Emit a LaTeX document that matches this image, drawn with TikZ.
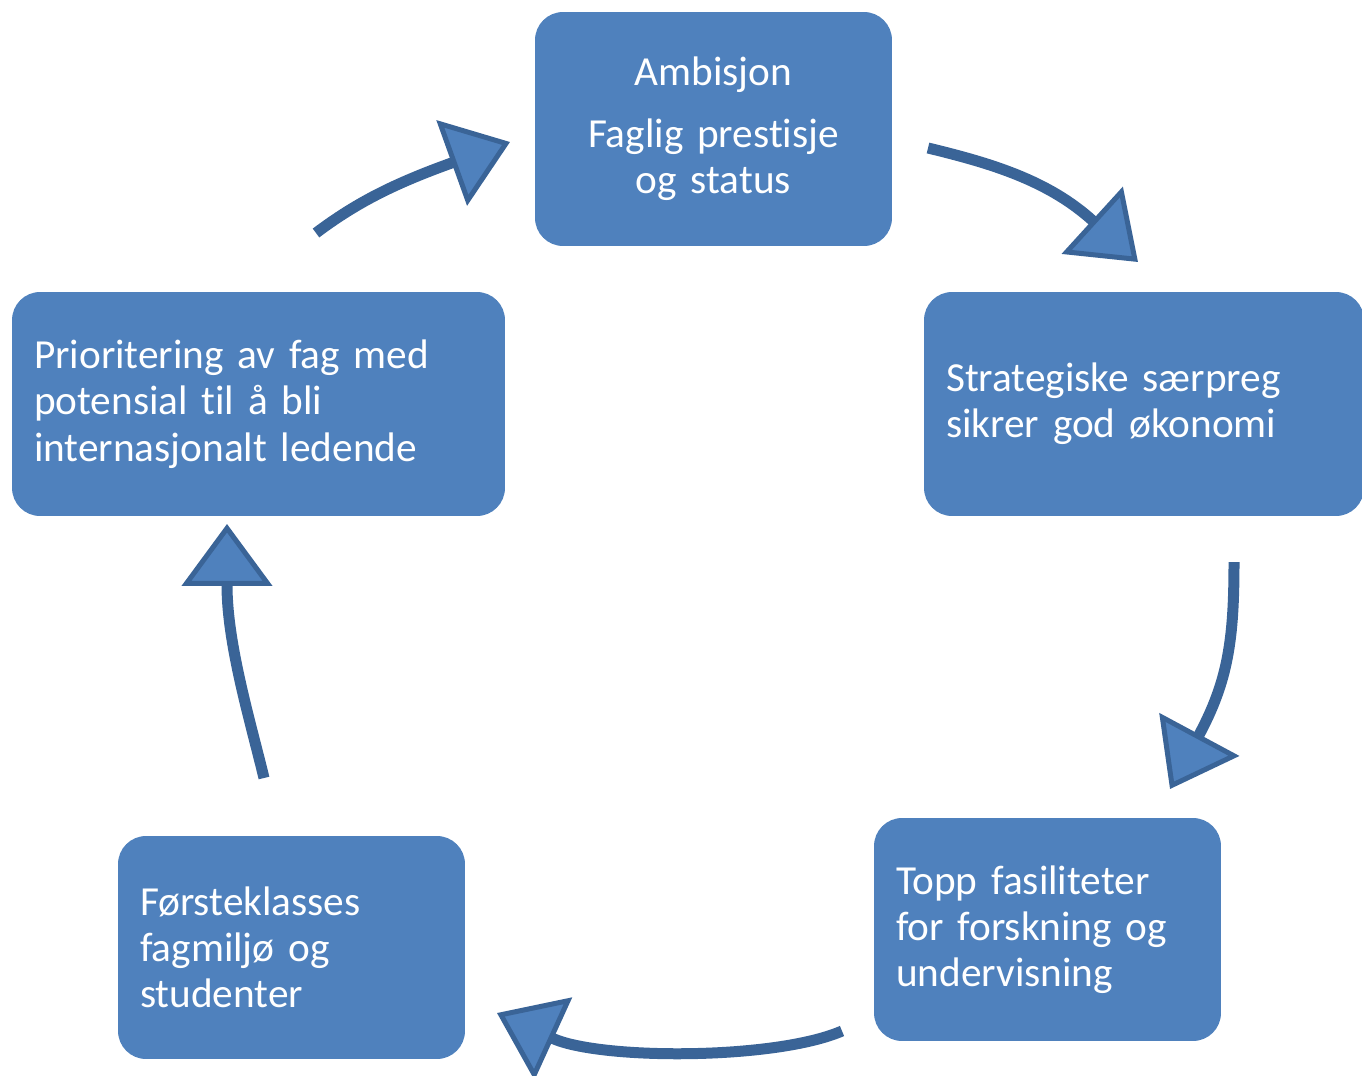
\documentclass[tikz,border=0pt]{standalone}
\usepackage{fontspec}
\setmainfont{Carlito}[Ligatures=NoCommon]
\usetikzlibrary{arrows.meta}
\definecolor{boxfill}{HTML}{4F81BD}
\definecolor{arrowline}{HTML}{3A6497}

\begin{document}
\begin{tikzpicture}[
    x=0.02cm, y=-0.02cm,
    font=\fontsize{23.5}{26.3}\selectfont,
    box/.style={rounded corners=0.56cm, fill=boxfill, text=white,
                inner xsep=0.44cm, inner ysep=0pt, align=left},
    cyc/.style={draw=arrowline, line width=0.22cm,
                -{Triangle[length=1.24cm, width=1.8cm, fill=boxfill,
                  line width=0.1cm]}},
]

\clip (0,0) rectangle (1362,1075);

% Boxes of the cycle
\node[box, align=center, text width=6.26cm, minimum height=4.68cm]
    (ambisjon) at (713.5,129)
    {Ambisjon\\[9pt]Faglig prestisje\\og status};
\node[box, text width=7.92cm, minimum height=4.48cm]
    (strategi) at (1144,404)
    {Strategiske særpreg\\sikrer god økonomi};
\node[box, text width=6.06cm, minimum height=4.46cm]
    (fasiliteter) at (1047.5,929.5)
    {Topp fasiliteter\\for forskning og\\undervisning};
\node[box, text width=6.06cm, minimum height=4.46cm]
    (fagmiljo) at (291.5,947.5)
    {Førsteklasses\\fagmiljø og\\studenter};
\node[box, text width=8.98cm, minimum height=4.48cm]
    (prioritering) at (258.5,404)
    {Prioritering av fag med\\potensial til å bli\\internasjonalt ledende};

% Free ends of the arrows
\coordinate (a1s) at (316,233);  \coordinate (a1e) at (510,142);
\coordinate (a2s) at (928,148);  \coordinate (a2e) at (1138,262);
\coordinate (a3s) at (1234,562); \coordinate (a3e) at (1170,789);
\coordinate (a4s) at (842,1031); \coordinate (a4e) at (497,1013);
\coordinate (a5s) at (264,778);  \coordinate (a5e) at (227,524);

% Arrows between the boxes
\draw[cyc] (a1s) .. controls (356,203) and (393,184) .. (a1e);
\draw[cyc] (a2s) .. controls (990,163) and (1048,180) .. (a2e);
\draw[cyc] (a3s) .. controls (1234,640) and (1228,681) .. (a3e);
\draw[cyc] (a4s) .. controls (775,1060) and (600,1060) .. (a4e);
\draw[cyc] (a5s) .. controls (250,720) and (227,644) .. (a5e);

\end{tikzpicture}
\end{document}
